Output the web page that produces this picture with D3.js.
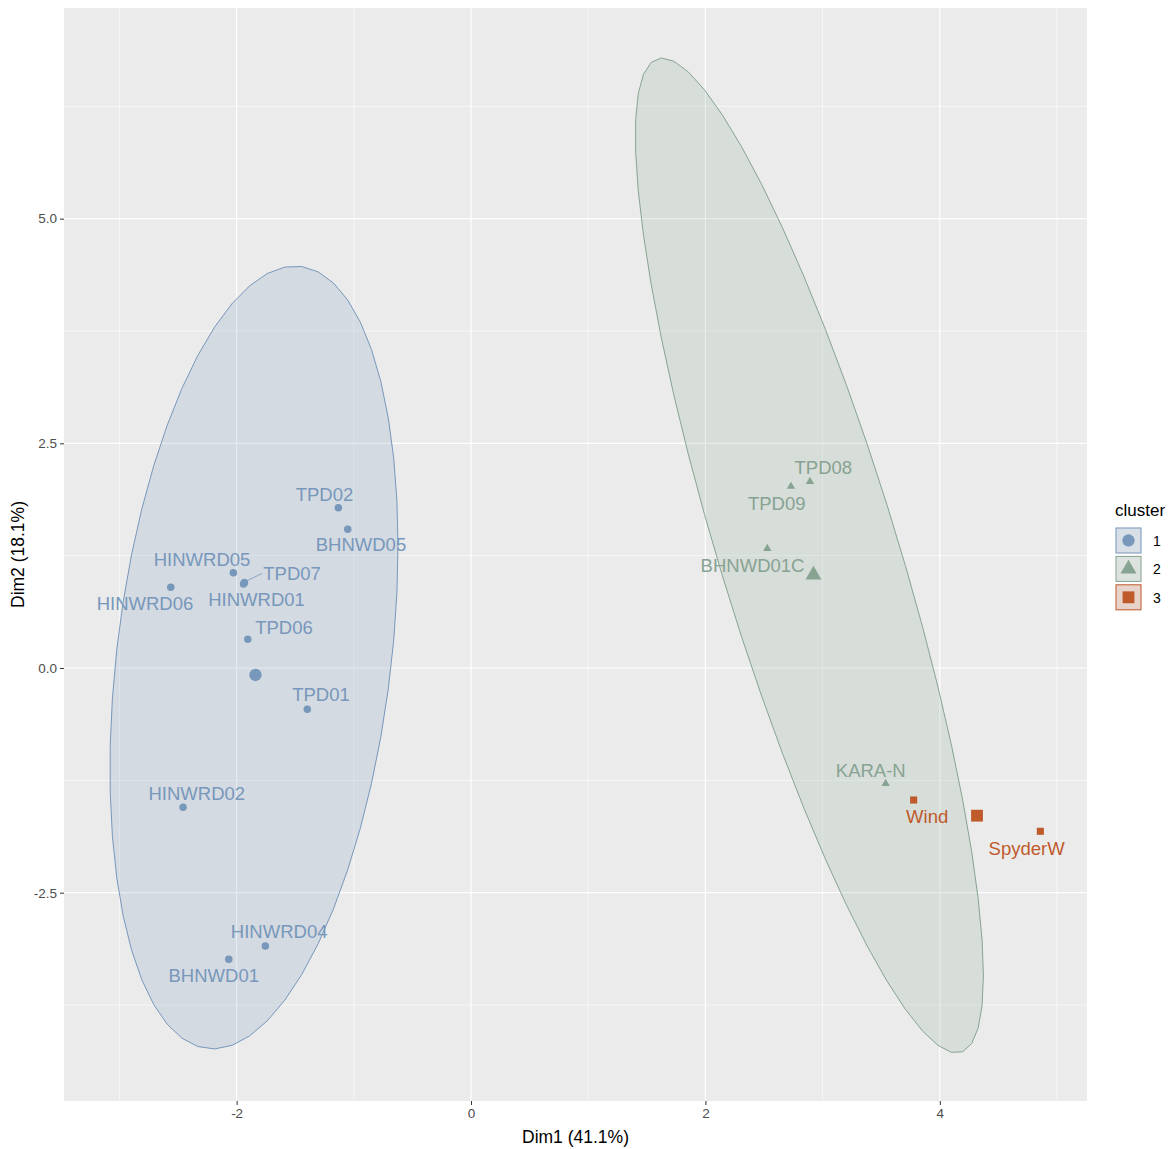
<!DOCTYPE html>
<html>
<head>
<meta charset="utf-8">
<script src="https://cdn.jsdelivr.net/npm/d3@7"></script>
<style>
  html, body { margin: 0; padding: 0; background: #fff; }
  svg { display: block; font-family: "Liberation Sans", Arial, sans-serif; }
</style>
</head>
<body>
<svg id="chart" width="1173" height="1149"></svg>
<script>
// --- data ---
const names = ['TPD02', 'BHNWD05', 'HINWRD05', 'TPD07', 'HINWRD01', 'HINWRD06', 'TPD06', 'TPD01',
  'HINWRD02', 'HINWRD04', 'BHNWD01', 'TPD08', 'TPD09', 'BHNWD01C', 'KARA-N', 'Wind', 'SpyderW'];
const cluster = [1, 1, 1, 1, 1, 1, 1, 1, 1, 1, 1, 2, 2, 2, 2, 3, 3];
const dim1 = [-1.132, -1.052, -2.028, -1.933, -1.941, -2.562, -1.905, -1.397,
  -2.457, -1.755, -2.067, 2.892, 2.730, 2.528, 3.538, 3.777, 4.858];
const dim2 = [1.784, 1.543, 1.060, 0.951, 0.935, 0.898, 0.319, -0.460,
  -1.550, -3.093, -3.241, 2.075, 2.020, 1.330, -1.285, -1.469, -1.817];
// repelled label positions (data units)
const labelDim1 = [-1.250, -0.939, -2.295, -1.527, -1.830, -2.782, -1.596, -1.280,
  -2.340, -1.637, -2.195, 3.006, 2.608, 2.402, 3.411, 3.892, 4.741];
const labelDim2 = [1.931, 1.369, 1.207, 1.052, 0.757, 0.723, 0.456, -0.300,
  -1.394, -2.930, -3.425, 2.228, 1.827, 1.141, -1.143, -1.647, -2.003];

const clusters = [1, 2, 3];
// concentration ellipses: centre, half extents, correlation
const ellCluster = [1, 2];
const ellCx = [-1.852, 2.887];
const ellCy = [0.117, 1.252];
const ellSx = [1.229, 1.485];
const ellSy = [4.356, 5.536];
const ellRho = [0.285, -0.845];

const xTicks = [-2, 0, 2, 4];
const yTicks = [-2.5, 0, 2.5, 5];
const xTitle = 'Dim1 (41.1%)';
const yTitle = 'Dim2 (18.1%)';

// --- styles ---
const colors = { 1: '#7797BB', 2: '#87A392', 3: '#BF5A2B' };
const shapes = { 1: d3.symbolCircle, 2: d3.symbolTriangle, 3: d3.symbolSquare };
const ptSize = { 1: 44, 2: 30, 3: 50 };
const centroidSize = { 1: 120, 2: 110, 3: 140 };

const svg = d3.select('#chart');
const panel = { left: 64, top: 8, right: 1087, bottom: 1101 };

const x = d3.scaleLinear().domain([-3.473, 5.256]).range([panel.left, panel.right]);
const y = d3.scaleLinear().domain([-4.818, 7.344]).range([panel.bottom, panel.top]);

// ggplot prints a plain hyphen for negatives
const loc = d3.formatLocale({ decimal: '.', thousands: ',', grouping: [3], currency: ['', ''], minus: '-' });

// panel background + grid
svg.append('rect')
  .attr('x', panel.left).attr('y', panel.top)
  .attr('width', panel.right - panel.left).attr('height', panel.bottom - panel.top)
  .attr('fill', '#EBEBEB');

const xMinor = [-3, -1, 1, 3, 5];
const yMinor = [-3.75, -1.25, 1.25, 3.75, 6.25];
const grid = svg.append('g');
grid.selectAll('.xmin').data(xMinor).join('line')
  .attr('x1', d => x(d)).attr('x2', d => x(d)).attr('y1', panel.top).attr('y2', panel.bottom)
  .attr('stroke', '#fff').attr('stroke-width', 0.6);
grid.selectAll('.ymin').data(yMinor).join('line')
  .attr('y1', d => y(d)).attr('y2', d => y(d)).attr('x1', panel.left).attr('x2', panel.right)
  .attr('stroke', '#fff').attr('stroke-width', 0.6);
grid.selectAll('.xmaj').data(xTicks).join('line')
  .attr('x1', d => x(d)).attr('x2', d => x(d)).attr('y1', panel.top).attr('y2', panel.bottom)
  .attr('stroke', '#fff').attr('stroke-width', 1.2);
grid.selectAll('.ymaj').data(yTicks).join('line')
  .attr('y1', d => y(d)).attr('y2', d => y(d)).attr('x1', panel.left).attr('x2', panel.right)
  .attr('stroke', '#fff').attr('stroke-width', 1.2);

// ellipses (51-segment polygons, like stat_ellipse)
function ellipsePoints(i) {
  const pts = [];
  const k = Math.sqrt(1 - ellRho[i] * ellRho[i]);
  for (let j = 0; j <= 51; j++) {
    const t = (j / 51) * 2 * Math.PI;
    const px = ellCx[i] + ellSx[i] * Math.cos(t);
    const py = ellCy[i] + ellSy[i] * (ellRho[i] * Math.cos(t) + k * Math.sin(t));
    pts.push([x(px), y(py)]);
  }
  return pts;
}
const line = d3.line().curve(d3.curveLinearClosed);
svg.append('g').selectAll('path').data(ellCluster).join('path')
  .attr('d', (c, i) => line(ellipsePoints(i)))
  .attr('fill', c => colors[c]).attr('fill-opacity', 0.2)
  .attr('stroke', c => colors[c]).attr('stroke-width', 1);

// rows
const rows = names.map((n, i) => ({
  name: n, cl: cluster[i], x: dim1[i], y: dim2[i], lx: labelDim1[i], ly: labelDim2[i],
}));

// segment for displaced label (TPD07)
const seg = rows.filter(r => r.name === 'TPD07');
svg.append('g').selectAll('line').data(seg).join('line')
  .attr('x1', r => x(r.x) + 3).attr('y1', r => y(r.y) - 2)
  .attr('x2', r => x(r.lx) - 30).attr('y2', r => y(r.ly))
  .attr('stroke', r => colors[r.cl]).attr('stroke-width', 0.8);

// points
svg.append('g').selectAll('path').data(rows).join('path')
  .attr('transform', r => `translate(${x(r.x)},${y(r.y)})`)
  .attr('d', r => d3.symbol().type(shapes[r.cl]).size(ptSize[r.cl])())
  .attr('fill', r => colors[r.cl]);

// centroids
const centroids = clusters.map(c => {
  const sub = rows.filter(r => r.cl === c);
  return { cl: c, x: d3.mean(sub, r => r.x), y: d3.mean(sub, r => r.y) };
});
svg.append('g').selectAll('path').data(centroids).join('path')
  .attr('transform', c => `translate(${x(c.x)},${y(c.y)})`)
  .attr('d', c => d3.symbol().type(shapes[c.cl]).size(centroidSize[c.cl])())
  .attr('fill', c => colors[c.cl]);

// labels
svg.append('g').selectAll('text').data(rows).join('text')
  .attr('x', r => x(r.lx)).attr('y', r => y(r.ly))
  .attr('text-anchor', 'middle').attr('dominant-baseline', 'central')
  .attr('font-size', 18.5).attr('fill', r => colors[r.cl])
  .text(r => r.name);

// axes
const xAxis = svg.append('g').attr('transform', `translate(0,${panel.bottom})`)
  .call(d3.axisBottom(x).tickValues(xTicks).tickSize(4).tickPadding(3).tickFormat(loc.format('d')));
const yAxis = svg.append('g').attr('transform', `translate(${panel.left},0)`)
  .call(d3.axisLeft(y).tickValues(yTicks).tickSize(4).tickPadding(3).tickFormat(loc.format('.1f')));
[xAxis, yAxis].forEach(a => {
  a.select('.domain').remove();
  a.selectAll('.tick line').attr('stroke', '#333').attr('stroke-width', 1);
  a.selectAll('.tick text').attr('fill', '#4D4D4D').attr('font-size', 13.5)
    .attr('font-family', '"Liberation Sans", Arial, sans-serif');
});

svg.append('text')
  .attr('x', (panel.left + panel.right) / 2).attr('y', 1143)
  .attr('text-anchor', 'middle').attr('font-size', 17.5).attr('fill', '#000')
  .text(xTitle);
svg.append('text')
  .attr('transform', `translate(24,${(panel.top + panel.bottom) / 2}) rotate(-90)`)
  .attr('text-anchor', 'middle').attr('font-size', 17.5).attr('fill', '#000')
  .text(yTitle);

// legend
const lg = svg.append('g').attr('transform', 'translate(1115,0)');
lg.append('text').attr('x', 0).attr('y', 516).attr('font-size', 17).attr('fill', '#000').text('cluster');
const key = lg.selectAll('g.key').data(clusters).join('g')
  .attr('transform', (c, i) => `translate(0,${527 + i * 28.4})`);
key.append('rect').attr('x', 0.5).attr('y', 0.5).attr('width', 26).attr('height', 26)
  .attr('fill', '#F2F2F2');
key.append('rect').attr('x', 1).attr('y', 1).attr('width', 25).attr('height', 25)
  .attr('fill', c => colors[c]).attr('fill-opacity', 0.2)
  .attr('stroke', c => colors[c]).attr('stroke-width', 1);
key.append('path').attr('transform', 'translate(13.5,13.5)')
  .attr('d', c => d3.symbol().type(shapes[c]).size(centroidSize[c])())
  .attr('fill', c => colors[c]);
key.append('text').attr('x', 38).attr('y', 14).attr('dominant-baseline', 'central')
  .attr('font-size', 14).attr('fill', '#000').text(c => c);
</script>
</body>
</html>
